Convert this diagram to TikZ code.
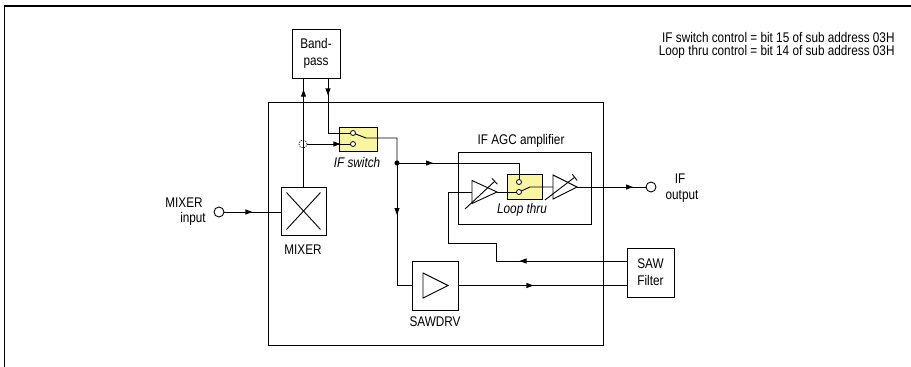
\documentclass[tikz,border=0pt]{standalone}
\usepackage{fontspec}
\setmainfont[FakeStretch=0.84]{Liberation Sans}
\usetikzlibrary{arrows.meta,decorations.markings,calc}
\definecolor{swyellow}{RGB}{250,245,160}
\begin{document}
\begin{tikzpicture}[x=1pt,y=-1pt, line width=0.9pt,
  every node/.style={font=\fontsize{14}{17}\selectfont, inner sep=0pt},
  blk/.style={draw, fill=white, align=center},
  swbox/.style={draw, fill=swyellow},
  contact/.style={circle, draw, fill=white, minimum size=5pt, line width=0.8pt},
  port/.style={circle, draw, fill=white, minimum size=10pt},
  midarrow/.style={postaction={decorate}, decoration={markings, mark=at position #1 with {\arrow{Triangle[length=7pt,width=5pt]}}}},
  itl/.style={font=\fontsize{14}{16}\selectfont\itshape},
]
\useasboundingbox (0,0) rectangle (911,367);
% frame
\draw[line width=1.6pt] (4.5,367) -- (4.5,6) -- (911,6);
% note
\node[anchor=east] (n1) at (895,37) {IF switch control = bit 15 of sub address 03H};
\node[anchor=east] (n2) at (895,52) {Loop thru control = bit 14 of sub address 03H};
% main box and AGC box
\node[draw, minimum width=335pt, minimum height=243pt] (main) at (435.5,223.5) {};
\node[draw, minimum width=133pt, minimum height=72pt] (agc) at (524.5,188) {};
\node (agcl) at (521,141) {IF AGC amplifier};
% switches
\node[swbox, minimum width=38pt, minimum height=24pt] (ifsw) at (358,139) {};
\node[itl] (ifswl) at (357,162) {IF switch};
\node[swbox, minimum width=35pt, minimum height=25pt] (lt) at (524.5,186.5) {};
\node[itl] (ltl) at (522,210) {Loop thru};
% blocks
\node[blk, minimum width=48pt, minimum height=49pt] (bp) at (316,53.5) {Band-\\pass};
\node[blk, minimum width=45pt, minimum height=48pt] (mix) at (303.5,211) {};
\draw ($(mix.north west)+(6,6)$) -- ($(mix.south east)+(-6,-6)$);
\draw ($(mix.north east)+(-6,6)$) -- ($(mix.south west)+(6,-6)$);
\node (mixl) at (303,250) {MIXER};
\node[blk, minimum width=46pt, minimum height=49pt] (sawdrv) at (435,285.5) {};
\draw (423,273) -- (423,298) -- (448,285.5) -- cycle;
\node (sawdrvl) at (435,322) {SAWDRV};
\node[blk, minimum width=47pt, minimum height=49pt] (saw) at (650.5,272.5) {SAW\\Filter};
% ports
\node[port] (min) at (219,212) {};
\node (minl1) at (184,203) {MIXER};
\node (minl2) at (193,219) {input};
\node[port] (ifout) at (651,187) {};
\node (ifoutl1) at (680,179) {IF};
\node (ifoutl2) at (682,196) {output};
% amplifiers
\coordinate (a1in) at (472,192);
\coordinate (a1out) at (497,192);
\draw (472,180.5) -- (472,203.5) -- (a1out) -- cycle;
\draw[-{Bar[width=8pt]}] (465,209) -- (495,181);
\coordinate (a2in) at (553,187);
\coordinate (a2out) at (577,187);
\draw (553,175) -- (553,199) -- (a2out) -- cycle;
\draw[-{Bar[width=8pt]}] (545,200) -- (575,177);
% contacts positions
\coordinate (c1p) at (353,133);
\coordinate (c2p) at (353,144);
\coordinate (l1p) at (519,182);
\coordinate (l2p) at (519,192);
\coordinate (jn) at (397,163);
% dashed circle
\node[circle, draw, line width=0.7pt, dash pattern=on 1.2pt off 1.2pt, minimum size=8pt] (dc) at (303,144) {};
% connectors
\draw[midarrow=28pt] (min.east) -- (mix.west |- min.east);
\draw[midarrow=97pt] (mix.north) -- (mix.north |- bp.south);
\draw[midarrow=17pt] ([xshift=12pt]bp.south) |- (c1p);
\draw[midarrow=33pt] (dc.east) -- (c2p);
\draw (c1p) -- (366,138) -| (jn);
\draw[midarrow=36pt] (jn) -| (l1p);
\draw[midarrow=52pt] (jn) |- (sawdrv.west);
\draw[midarrow=75pt] (sawdrv.east) -- (saw.west |- sawdrv.east);
\draw[midarrow=107pt] ($(saw.west)+(0,-11.5)$) -- (496,261) -- (496,243) -- (448,243) -- (448,192) -- (a1in);
\draw (a1out) -- (l2p);
\draw (l2p) -- (530,187) -- (a2in);
\draw[midarrow=56pt] (a2out) -- (ifout.west);
% contacts
\node[contact] (c1) at (c1p) {};
\node[contact] (c2) at (c2p) {};
\node[contact] (l1) at (l1p) {};
\node[contact] (l2) at (l2p) {};
\fill (jn) circle (2.6pt);
\end{tikzpicture}
\end{document}
